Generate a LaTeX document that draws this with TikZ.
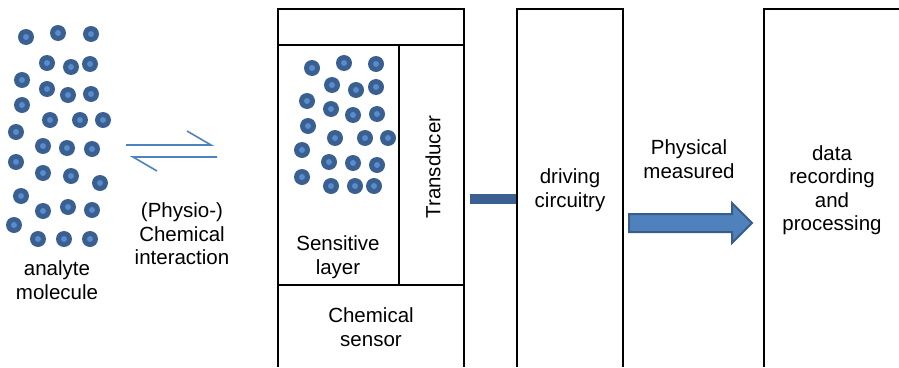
\documentclass[tikz,border=0pt]{standalone}
\usepackage{fontspec}
\setmainfont{Liberation Sans}
\usepackage{tikz}

\definecolor{moldark}{HTML}{3A5F91}
\definecolor{mollight}{HTML}{5A8CCB}
\definecolor{arrowfill}{HTML}{4F81BD}
\definecolor{arrowline}{HTML}{385D8A}

\tikzset{
	lbl/.style={align=center, inner sep=0pt, font=\fontsize{20.5}{23.5}\selectfont},
	wall/.style={black, line width=2pt},
}

\begin{document}
\begin{tikzpicture}[x=1pt, y=-1pt]
	\useasboundingbox (0,0) rectangle (899,367);
	% free molecules
	\foreach \x/\y in {26/37, 58/33, 91/34, 47/63, 71/67, 90/64, 22/80, 47/89, 68/95, 91/94,
		22/105, 50/120, 80/120, 103/120, 16/132, 43/146, 67/148, 92/149, 16/162, 43/173,
		71/176, 100/183, 21/196, 43/211, 68/207, 92/210, 14/225, 38/239, 64/239, 90/239}{
		\fill[moldark] (\x,\y) circle (8pt);
		\fill[mollight] (\x,\y) circle (3pt);
	}
	% bound molecules in the sensitive layer
	\foreach \x/\y in {312/68, 344/63, 376/64, 332/85, 356/90, 376/87, 307/101, 331/109, 353/115, 377/114,
		308/126, 335/138, 365/138, 388/138, 302/150, 329/162, 353/163, 377/165, 302/177, 331/186,
		355/186, 374/186}{
		\fill[moldark] (\x,\y) circle (8pt);
		\fill[mollight] (\x,\y) circle (3pt);
	}
	\node[lbl] (analyte) at (57,280) {analyte\\molecule};
	% equilibrium arrows
	\draw[arrowfill, line width=1.6pt] (126,145) -- (211,145) -- (187,131);
	\draw[arrowfill, line width=1.6pt] (217,157) -- (133,157) -- (157,171);
	\node[lbl] (interaction) at (182,234) {(Physio-)\\Chemical\\interaction};
	% chemical sensor
	\draw[wall] (278,367) -- (278,9) -- (464,9) -- (464,367);
	\draw[wall] (278,45) -- (464,45);
	\draw[wall] (278,285) -- (464,285);
	\draw[wall] (399,45) -- (399,285);
	\node[lbl] (sensitive) at (338,257) {Sensitive\\layer};
	\node[lbl, rotate=90] (transducer) at (433,167) {Transducer};
	\node[lbl] (sensor) at (371,327) {Chemical\\sensor};
	% driving circuitry
	\draw[moldark, line width=10pt] (470,199) -- (518,199);
	\draw[wall] (517,367) -- (517,9) -- (623,9) -- (623,367);
	\node[lbl] (driving) at (570,190) {driving\\circuitry};
	% physical signal
	\node[lbl] (physical) at (689,159) {Physical\\measured};
	\filldraw[fill=arrowfill, draw=arrowline, line width=2pt, line join=miter]
		(629,214) -- (732,214) -- (732,203) -- (752,223) -- (732,243) -- (732,232) -- (629,232) -- cycle;
	% data recording
	\draw[wall] (764,367) -- (764,9) -- (899,9);
	\node[lbl] (recording) at (832,190) {data\\recording\\and\\processing};
\end{tikzpicture}
\end{document}
